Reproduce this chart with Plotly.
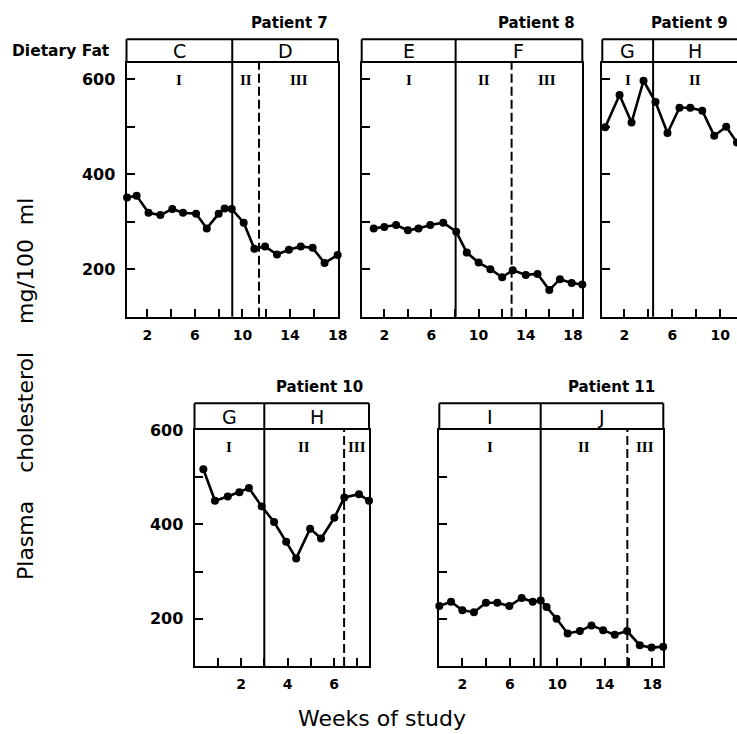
import plotly.graph_objects as go

W, H = 737, 734

# ---------------- data ----------------
p7_weeks = [0.3, 1.1, 2.1, 3.1, 4.1, 5.0, 6.1, 7.0, 8.0, 8.5, 9.1, 10.1, 11.0, 11.9, 12.9, 13.9, 14.9, 15.9, 16.9, 18.0]
p7_chol = [351, 355, 319, 314, 327, 319, 317, 286, 317, 328, 327, 298, 243, 248, 231, 241, 248, 245, 213, 230]
p7_diets = ["C", "D"]
p7_diet_change = [9.14]
p7_phases = ["I", "II", "III"]
p7_phase_change = [9.14, 11.39]

p8_weeks = [1.1, 2.0, 3.0, 4.0, 4.9, 5.9, 7.0, 8.1, 9.0, 10.0, 11.0, 12.0, 12.9, 14.0, 15.0, 16.0, 16.9, 17.9, 18.8]
p8_chol = [286, 289, 293, 282, 286, 293, 298, 279, 235, 214, 200, 183, 198, 188, 190, 156, 179, 171, 168]
p8_diets = ["E", "F"]
p8_diet_change = [8.05]
p8_phases = ["I", "II", "III"]
p8_phase_change = [8.05, 12.8]

p9_weeks = [0.4, 1.6, 2.6, 3.6, 4.6, 5.6, 6.6, 7.5, 8.5, 9.5, 10.5, 11.4]
p9_chol = [499, 567, 509, 597, 552, 487, 540, 540, 534, 481, 500, 467]
p9_diets = ["G", "H"]
p9_diet_change = [4.4]
p9_phases = ["I", "II"]
p9_phase_change = [4.4]

p10_weeks = [0.38, 0.88, 1.43, 1.93, 2.34, 2.89, 3.42, 3.94, 4.37, 4.97, 5.44, 6.01, 6.44, 7.07, 7.5]
p10_chol = [517, 450, 459, 468, 477, 438, 405, 363, 328, 391, 370, 414, 457, 464, 450]
p10_diets = ["G", "H"]
p10_diet_change = [3.0]
p10_phases = ["I", "II", "III"]
p10_phase_change = [3.0, 6.43]

p11_weeks = [0.06, 1.05, 2.0, 2.98, 3.99, 4.95, 5.96, 7.0, 7.93, 8.6, 9.1, 9.94, 10.87, 11.9, 12.88, 13.86, 14.84, 15.88, 16.95, 17.94, 18.92]
p11_chol = [227, 236, 218, 214, 234, 234, 227, 244, 236, 239, 225, 200, 169, 174, 186, 176, 166, 174, 144, 139, 141]
p11_diets = ["I", "J"]
p11_diet_change = [8.6]
p11_phases = ["I", "II", "III"]
p11_phase_change = [8.6, 15.9]

y_tick_vals = [200, 400, 600]
y_tick_labels = ["200", "400", "600"]


def px_x(v):
    return v / W


def px_y(v):
    return 1 - v / H


# ---------------- layout (pixels in the 737x734 window) ----------------
panels = [
    dict(title="Patient 7", weeks=p7_weeks, chol=p7_chol, diets=p7_diets, dchg=p7_diet_change,
         phases=p7_phases, pchg=p7_phase_change, box=(126.5, 62.7, 338, 316.7), htop=39.3,
         xr=[0.25, 18.03], yr=[100, 635], ylab=True, major=dict(tick0=2, dtick=4), minor=2,
         tright=330, ty=22.7, right=True),
    dict(title="Patient 8", weeks=p8_weeks, chol=p8_chol, diets=p8_diets, dchg=p8_diet_change,
         phases=p8_phases, pchg=p8_phase_change, box=(361.7, 62.7, 582.3, 316.7), htop=39.3,
         xr=[0.08, 18.8], yr=[100, 635], ylab=False, major=dict(tick0=2, dtick=4), minor=2,
         tright=576.7, ty=22.7, right=True),
    dict(title="Patient 9", weeks=p9_weeks, chol=p9_chol, diets=p9_diets, dchg=p9_diet_change,
         phases=p9_phases, pchg=p9_phase_change, box=(602.3, 62.7, 737, 316.7), htop=39.3,
         xr=[0.16, 11.4], yr=[100, 635], ylab=False, major=dict(tick0=2, dtick=4), minor=2,
         tright=730, ty=22.7, right=False),
    dict(title="Patient 10", weeks=p10_weeks, chol=p10_chol, diets=p10_diets, dchg=p10_diet_change,
         phases=p10_phases, pchg=p10_phase_change, box=(194.5, 430, 369, 666), htop=403.3,
         xr=[0, 7.5], yr=[100, 600], ylab=True, major=dict(tickvals=[2, 4, 6]), minor=1,
         tright=365, ty=387, right=True),
    dict(title="Patient 11", weeks=p11_weeks, chol=p11_chol, diets=p11_diets, dchg=p11_diet_change,
         phases=p11_phases, pchg=p11_phase_change, box=(439.3, 430, 663.3, 666), htop=403.3,
         xr=[0.06, 18.93], yr=[100, 600], ylab=False, major=dict(tick0=2, dtick=4), minor=2,
         tright=656.7, ty=387, right=True),
]

BOLD = dict(family="DejaVu Sans", color="black", weight="bold")
fig = go.Figure()
shapes, annotations = [], []
LW = 2

for i, p in enumerate(panels):
    n = "" if i == 0 else str(i + 1)
    xa, ya = "x" + n, "y" + n
    x0, yt, x1, yb = p["box"]
    hdr = (yt - p["htop"]) / (yb - yt)

    fig.add_trace(go.Scatter(
        x=p["weeks"], y=p["chol"], mode="lines+markers", xaxis=xa, yaxis=ya,
        line=dict(color="black", width=2.6), marker=dict(color="black", size=8),
        cliponaxis=False, showlegend=False, hoverinfo="skip"))

    xaxis = dict(domain=[px_x(x0), min(px_x(x1), 1.0)], range=p["xr"], anchor=ya,
                 showline=True, linecolor="black", linewidth=LW, mirror=True,
                 showgrid=False, zeroline=False, ticks="inside", ticklen=8, tickwidth=2,
                 tickcolor="black", tickfont=dict(size=14, **BOLD), ticklabelstandoff=4,
                 automargin=False,
                 minor=dict(dtick=p["minor"], tick0=0, ticks="inside", ticklen=8,
                            tickwidth=2, tickcolor="black"))
    if "tickvals" in p["major"]:
        xaxis.update(tickmode="array", tickvals=p["major"]["tickvals"])
    else:
        xaxis.update(tickmode="linear", tick0=p["major"]["tick0"], dtick=p["major"]["dtick"])
    yaxis = dict(domain=[px_y(yb), px_y(yt)], range=p["yr"], anchor=xa,
                 showline=True, linecolor="black", linewidth=LW, mirror=p["right"],
                 showgrid=False, zeroline=False, ticks="inside", ticklen=8, tickwidth=2,
                 tickcolor="black", tickmode="array", tickvals=y_tick_vals,
                 ticktext=y_tick_labels, showticklabels=p["ylab"], automargin=False,
                 tickfont=dict(size=16, **BOLD), ticklabelstandoff=6,
                 minor=dict(tickvals=[300, 500], ticks="inside", ticklen=8,
                            tickwidth=2, tickcolor="black"))
    fig.update_layout({"xaxis" + n: xaxis, "yaxis" + n: yaxis})

    xd, yd = xa + " domain", ya + " domain"
    # header box
    shapes.append(dict(type="line", xref=xd, yref=yd, x0=0, x1=1, y0=1 + hdr, y1=1 + hdr,
                       line=dict(color="black", width=LW)))
    shapes.append(dict(type="line", xref=xd, yref=yd, x0=0, x1=0, y0=1, y1=1 + hdr,
                       line=dict(color="black", width=LW)))
    if p["right"]:
        shapes.append(dict(type="line", xref=xd, yref=yd, x0=1, x1=1, y0=1, y1=1 + hdr,
                           line=dict(color="black", width=LW)))
    # diet change (solid, through header)
    for c in p["dchg"]:
        shapes.append(dict(type="line", xref=xa, yref=yd, x0=c, x1=c, y0=0, y1=1 + hdr,
                           line=dict(color="black", width=LW)))
    # phase change (dashed) where not a diet change
    for c in p["pchg"]:
        if c not in p["dchg"]:
            shapes.append(dict(type="line", xref=xa, yref=yd, x0=c, x1=c, y0=0, y1=1,
                               line=dict(color="black", width=LW, dash="9px,4px")))
    # diet labels
    dedges = [p["xr"][0]] + p["dchg"] + [p["xr"][1]]
    for k, lab in enumerate(p["diets"]):
        annotations.append(dict(text=lab, xref=xa, yref=yd, x=(dedges[k] + dedges[k + 1]) / 2,
                                y=1 + hdr / 2, yanchor="middle", showarrow=False,
                                font=dict(family="DejaVu Sans", size=19, color="black")))
    pedges = [p["xr"][0]] + p["pchg"] + [p["xr"][1]]
    for k, lab in enumerate(p["phases"]):
        annotations.append(dict(text=lab, xref=xa, yref=yd, x=(pedges[k] + pedges[k + 1]) / 2,
                                y=1, yanchor="top", yshift=-7, showarrow=False,
                                font=dict(family="Liberation Serif", size=15, color="black",
                                          weight="bold")))
    # title
    annotations.append(dict(text=p["title"], xref="paper", yref="paper", x=px_x(p["tright"]),
                            y=px_y(p["ty"]), xanchor="right", yanchor="middle",
                            showarrow=False, font=dict(size=15, **BOLD)))

NB = "\u00a0"
annotations.append(dict(text="Dietary Fat", xref="paper", yref="paper", x=px_x(112),
                        y=px_y(51), xanchor="right", yanchor="middle", showarrow=False,
                        font=dict(family="DejaVu Sans", size=15.5, color="black", weight="bold")))
annotations.append(dict(text="Plasma" + NB * 4 + "cholesterol" + NB * 4 + "mg/100" + NB * 2 + "ml",
                        xref="paper", yref="paper", x=px_x(25), y=px_y(389), textangle=-90,
                        xanchor="center", yanchor="middle", showarrow=False,
                        font=dict(family="DejaVu Sans", size=22, color="black")))
annotations.append(dict(text="Weeks of study", xref="paper", yref="paper", x=px_x(382),
                        y=px_y(718), xanchor="center", yanchor="middle", showarrow=False,
                        font=dict(family="DejaVu Sans", size=22, color="black")))

fig.update_layout(width=W, height=H, margin=dict(l=0, r=0, t=0, b=0, autoexpand=False),
                  paper_bgcolor="white", plot_bgcolor="white",
                  shapes=shapes, annotations=annotations, showlegend=False)

fig.write_html("out.html",
               config={"displayModeBar": False, "staticPlot": True},
               post_script="document.body.style.margin='0';"
                           "document.documentElement.style.overflow='hidden';")
